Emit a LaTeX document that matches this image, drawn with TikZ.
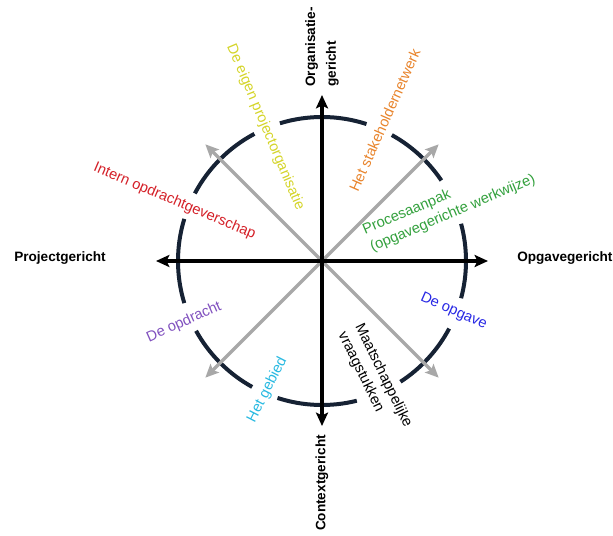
\documentclass[tikz,border=0pt]{standalone}
\usepackage{fontspec}
\setmainfont{Liberation Sans}
\usepackage{xcolor}
\usepackage{tikz}
\usetikzlibrary{arrows.meta}
\definecolor{ringNavy}{RGB}{22,34,52}
\definecolor{spokeGray}{RGB}{168,168,168}
\definecolor{lblYellow}{RGB}{212,212,40}
\definecolor{lblOrange}{RGB}{232,132,44}
\definecolor{lblRed}{RGB}{212,32,40}
\definecolor{lblGreen}{RGB}{50,160,60}
\definecolor{lblBlue}{RGB}{40,40,228}
\definecolor{lblPurple}{RGB}{128,80,190}
\definecolor{lblCyan}{RGB}{40,185,225}
\tikzstyle{tsAxisText} = [
    text=black,
    font=\fontsize{10.2}{15.5}\selectfont\bfseries,
    inner sep=0pt,
    align=left
]
\tikzstyle{tsLabel} = [
    font=\fontsize{11}{14}\selectfont,
    inner sep=0pt,
    align=left
]
\tikzstyle{tsRing} = [
    draw=ringNavy,
    line width=3pt
]
\tikzstyle{tsSpoke} = [
    draw=spokeGray,
    line width=2.4pt,
    -{Stealth[length=10pt, width=9pt, inset=2pt]}
]
\tikzstyle{tsAxis} = [
    tsSpoke,
    draw=black,
    line width=2.6pt
]

\begin{document}
\begin{tikzpicture}[x=0.75pt, y=0.75pt]

    \useasboundingbox (-322,-274) rectangle (291,261);

    \coordinate (o) at (0,0);

    % ring, broken where the labels cross it
    \draw[tsRing] (-15:144) arc[start angle=-15, end angle=15, radius=144];
    \draw[tsRing] (34:144) arc[start angle=34, end angle=61, radius=144];
    \draw[tsRing] (72:144) arc[start angle=72, end angle=107, radius=144];
    \draw[tsRing] (118:144) arc[start angle=118, end angle=152, radius=144];
    \draw[tsRing] (163:144) arc[start angle=163, end angle=197, radius=144];
    \draw[tsRing] (209:144) arc[start angle=209, end angle=241, radius=144];
    \draw[tsRing] (252:144) arc[start angle=252, end angle=284, radius=144];
    \draw[tsRing] (303:144) arc[start angle=303, end angle=332, radius=144];

    \coordinate (tipE) at (0:166);
    \coordinate (tipNE) at (45:165);
    \coordinate (tipN) at (90:166);
    \coordinate (tipNW) at (135:165);
    \coordinate (tipW) at (180:166);
    \coordinate (tipSW) at (225:165);
    \coordinate (tipS) at (270:165);
    \coordinate (tipSE) at (315:165);

    \draw[tsSpoke] (o) -- (tipNE);
    \draw[tsSpoke] (o) -- (tipNW);
    \draw[tsSpoke] (o) -- (tipSW);
    \draw[tsSpoke] (o) -- (tipSE);

    \draw[tsAxis] (o) -- (tipE);
    \draw[tsAxis] (o) -- (tipN);
    \draw[tsAxis] (o) -- (tipW);
    \draw[tsAxis] (o) -- (tipS);

    \node[tsAxisText, rotate=90] (organisatie) at (0,214) {Organisatie-\\gericht};
    \node[tsAxisText, rotate=90] (context) at (0,-222) {Contextgericht};
    \node[tsAxisText] (project) at (-262,3) {Projectgericht};
    \node[tsAxisText, anchor=west] (opgave) at (195,3) {Opgavegericht};

    \node[tsLabel, text=lblYellow, rotate=-67] (eigen) at (113:145) {De eigen projectorganisatie};
    \node[tsLabel, text=lblOrange, rotate=66] (stakeholder) at (66:154) {Het stakeholdernetwerk};
    \node[tsLabel, text=lblRed, rotate=-23] (intern) at (158:159) {Intern opdrachtgeverschap};
    \node[tsLabel, text=lblGreen, rotate=23] (proces) at (23.8:139) {Procesaanpak\\(opgavegerichte werkwijze)};
    \node[tsLabel, text=lblBlue, rotate=-24] (deopgave) at (-21:141) {De opgave};
    \node[tsLabel, text=black, rotate=-64] (maatschappij) at (-66:130) {Maatschappelijke\\vraagstukken};
    \node[tsLabel, text=lblCyan, rotate=63] (gebied) at (247:140) {Het gebied};
    \node[tsLabel, text=lblPurple, rotate=24] (opdracht) at (204:151) {De opdracht};

\end{tikzpicture}
\end{document}
